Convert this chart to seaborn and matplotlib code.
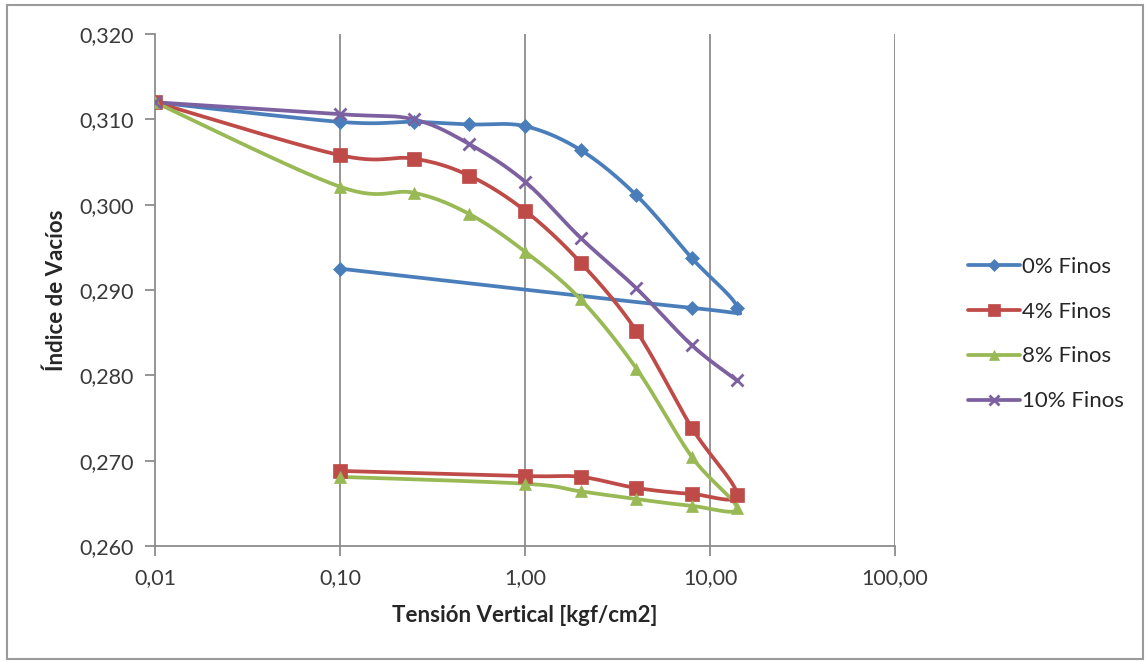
import numpy as np
import matplotlib
matplotlib.use("Agg")
import matplotlib.pyplot as plt
import seaborn as sns
from matplotlib.ticker import FixedLocator, FixedFormatter
from matplotlib.patches import Rectangle

# ---------------- data ----------------
series_names = ["0% Finos", "4% Finos", "8% Finos", "10% Finos"]

x_0 = [0.01, 0.1, 0.25, 0.5, 1, 2, 4, 8, 14, 8, 0.1]
y_0 = [0.3120, 0.3097, 0.3097, 0.3094, 0.3092, 0.3064, 0.3011, 0.2937, 0.2879, 0.2879, 0.2925]

x_4 = [0.01, 0.1, 0.25, 0.5, 1, 2, 4, 8, 14, 8, 4, 2, 1, 0.1]
y_4 = [0.3120, 0.3058, 0.3054, 0.3034, 0.2993, 0.2932, 0.2852, 0.2738, 0.2660,
       0.2661, 0.2668, 0.2681, 0.2682, 0.2688]

x_8 = [0.01, 0.1, 0.25, 0.5, 1, 2, 4, 8, 14, 8, 4, 2, 1, 0.1]
y_8 = [0.3120, 0.3021, 0.3014, 0.2989, 0.2945, 0.2889, 0.2808, 0.2704, 0.2644,
       0.2647, 0.2655, 0.2664, 0.2673, 0.2681]

x_10 = [0.01, 0.1, 0.25, 0.5, 1, 2, 4, 8, 14]
y_10 = [0.3120, 0.3106, 0.3100, 0.3071, 0.3027, 0.2961, 0.2902, 0.2835, 0.2794]

x_ticks = [0.01, 0.1, 1, 10, 100]
x_tick_labels = ["0,01", "0,10", "1,00", "10,00", "100,00"]
y_ticks = [0.260, 0.270, 0.280, 0.290, 0.300, 0.310, 0.320]
y_tick_labels = ["0,260", "0,270", "0,280", "0,290", "0,300", "0,310", "0,320"]

colors = ["#4A7EBB", "#BE4B48", "#98B954", "#7D60A0"]
markers = ["D", "s", "^", "x"]
msizes = [7, 10, 9, 9]

# ---------------- style ----------------
sns.set_theme(style="white")
plt.rcParams["font.family"] = ["Lato", "DejaVu Sans"]

fig = plt.figure(figsize=(11.48, 6.62), dpi=100)
ax = fig.add_axes([155/1148, 1-546/662, (895-155)/1148, (546-34)/662])

# scale factors (approx pixel per unit) for smooth curve in display-like space
SX, SY = 185.0, 8533.0


def smooth(xs, ys, n=30):
    """Catmull-Rom spline through points (Excel-like smoothed line)."""
    px = np.log10(np.array(xs, float)) * SX
    py = np.array(ys, float) * SY
    P = np.column_stack([px, py])
    P = np.vstack([P[0], P, P[-1]])
    out = []
    for i in range(1, len(P) - 2):
        p0, p1, p2, p3 = P[i-1], P[i], P[i+1], P[i+2]
        t = np.linspace(0, 1, n)[:, None]
        m1 = (p2 - p0) / 2.0
        m2 = (p3 - p1) / 2.0
        h00 = 2*t**3 - 3*t**2 + 1
        h10 = t**3 - 2*t**2 + t
        h01 = -2*t**3 + 3*t**2
        h11 = t**3 - t**2
        seg = h00*p1 + h10*m1 + h01*p2 + h11*m2
        out.append(seg if i == 1 else seg[1:])
    c = np.vstack(out)
    return 10 ** (c[:, 0] / SX), c[:, 1] / SY


all_x = [x_0, x_4, x_8, x_10]
all_y = [y_0, y_4, y_8, y_10]

handles = []
for name, xs, ys, col, mk, ms in zip(series_names, all_x, all_y, colors, markers, msizes):
    cx, cy = smooth(xs, ys)
    sns.lineplot(x=cx, y=cy, sort=False, estimator=None, ax=ax, color=col, lw=2.7, zorder=3)
    mew = 2.0 if mk == "x" else 0.5
    ax.plot(xs, ys, linestyle="none", marker=mk, color=col, ms=ms, mew=mew,
            mec=col, zorder=4)
    h, = ax.plot([], [], color=col, lw=2.7, marker=mk, ms=ms*0.85, mew=mew, mec=col)
    handles.append(h)

ax.set_xscale("log")
ax.set_xlim(0.01, 100)
ax.set_ylim(0.260, 0.320)
ax.xaxis.set_major_locator(FixedLocator(x_ticks))
ax.xaxis.set_major_formatter(FixedFormatter(x_tick_labels))
ax.xaxis.set_minor_locator(FixedLocator([]))
ax.yaxis.set_major_locator(FixedLocator(y_ticks))
ax.yaxis.set_major_formatter(FixedFormatter(y_tick_labels))

ax.grid(False)
for xv in x_ticks[1:]:
    ax.axvline(xv, color="#8C8C8C", lw=1.3, zorder=1)

for s in ["top", "right"]:
    ax.spines[s].set_visible(False)
for s in ["left", "bottom"]:
    ax.spines[s].set_color("#8C8C8C")
    ax.spines[s].set_linewidth(1.3)

ax.tick_params(axis="both", which="major", direction="out", length=7, width=1.3,
               color="#8C8C8C", labelsize=15.5, labelcolor="#3A3A3A", pad=8,
               bottom=True, left=True)
ax.tick_params(axis="x", pad=9)

ax.set_xlabel("Tensión Vertical [kgf/cm2]", fontsize=16, fontweight="bold",
              color="#262626", labelpad=12)
ax.set_ylabel("Índice de Vacíos", fontsize=16, fontweight="bold",
              color="#262626", labelpad=9)

fig.legend(handles, series_names, loc="center left",
           bbox_to_anchor=(948/1148, 1-334/662), frameon=False,
           fontsize=16, handlelength=2.35, labelspacing=1.12, handletextpad=0.1,
           labelcolor="#262626")

fig.patches.append(Rectangle((7/1148, 1-659/662), (1143-7)/1148, (659-5)/662,
                             transform=fig.transFigure, fill=False,
                             edgecolor="#9A9A9A", lw=1.5))

fig.savefig("out.png", dpi=100, facecolor="white")
